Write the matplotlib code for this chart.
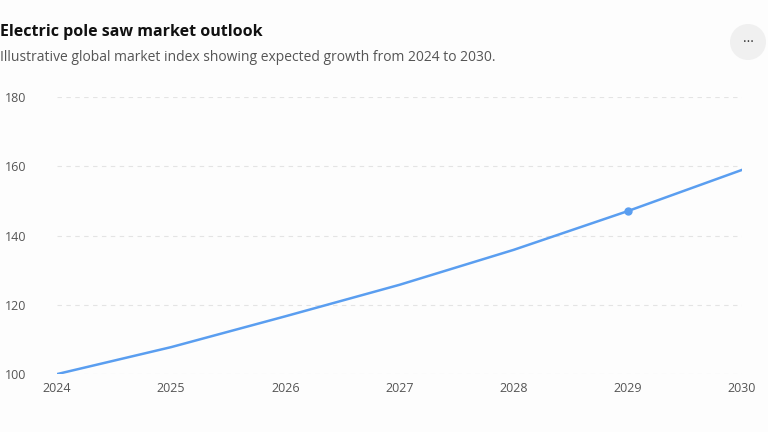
import matplotlib.pyplot as plt
from matplotlib.patches import Ellipse

# --- data ---
years = [2024, 2025, 2026, 2027, 2028, 2029, 2030]
index_values = [100, 107.8, 116.7, 125.8, 135.9, 147.1, 159]
y_ticks = [100, 120, 140, 160, 180]

plt.rcParams['font.family'] = ['Open Sans', 'DejaVu Sans']

fig = plt.figure(figsize=(7.68, 4.32), dpi=100, facecolor='#fdfdfd')
ax = fig.add_axes([57 / 768, 0.134, 685 / 768, 0.641], facecolor='#fdfdfd')

ax.plot(years, index_values, color='#5a9ef0', linewidth=1.8)
ax.plot(years[5], index_values[5], 'o', color='#5a9ef0', markersize=5)

ax.set_xlim(2024, 2030)
ax.set_ylim(100, 180)
ax.set_xticks(years)
ax.set_yticks(y_ticks)
ax.grid(axis='y', color='#e4e4e4', linestyle=(0, (4, 4)), linewidth=0.8)
for s in ax.spines.values():
    s.set_visible(False)
ax.tick_params(length=0, labelsize=9, colors='#555555')
ax.tick_params(axis='y', pad=22)
ax.tick_params(axis='x', pad=6)

fig.text(0.0, 0.925, 'Electric pole saw market outlook', fontsize=11.5,
         fontweight='bold', color='#111111', va='center')
fig.text(0.0, 0.868, 'Illustrative global market index showing expected growth from 2024 to 2030.',
         fontsize=10, color='#555555', va='center')

fig.patches.append(Ellipse((748 / 768, 1 - 42 / 432), 36 / 768, 36 / 432,
                           transform=fig.transFigure, facecolor='#f0f0f0', edgecolor='none'))
fig.text(748 / 768, 1 - 42 / 432, '···', fontsize=10, ha='center', va='center', color='#333333')

fig.savefig('out.png', dpi=100, facecolor=fig.get_facecolor())
